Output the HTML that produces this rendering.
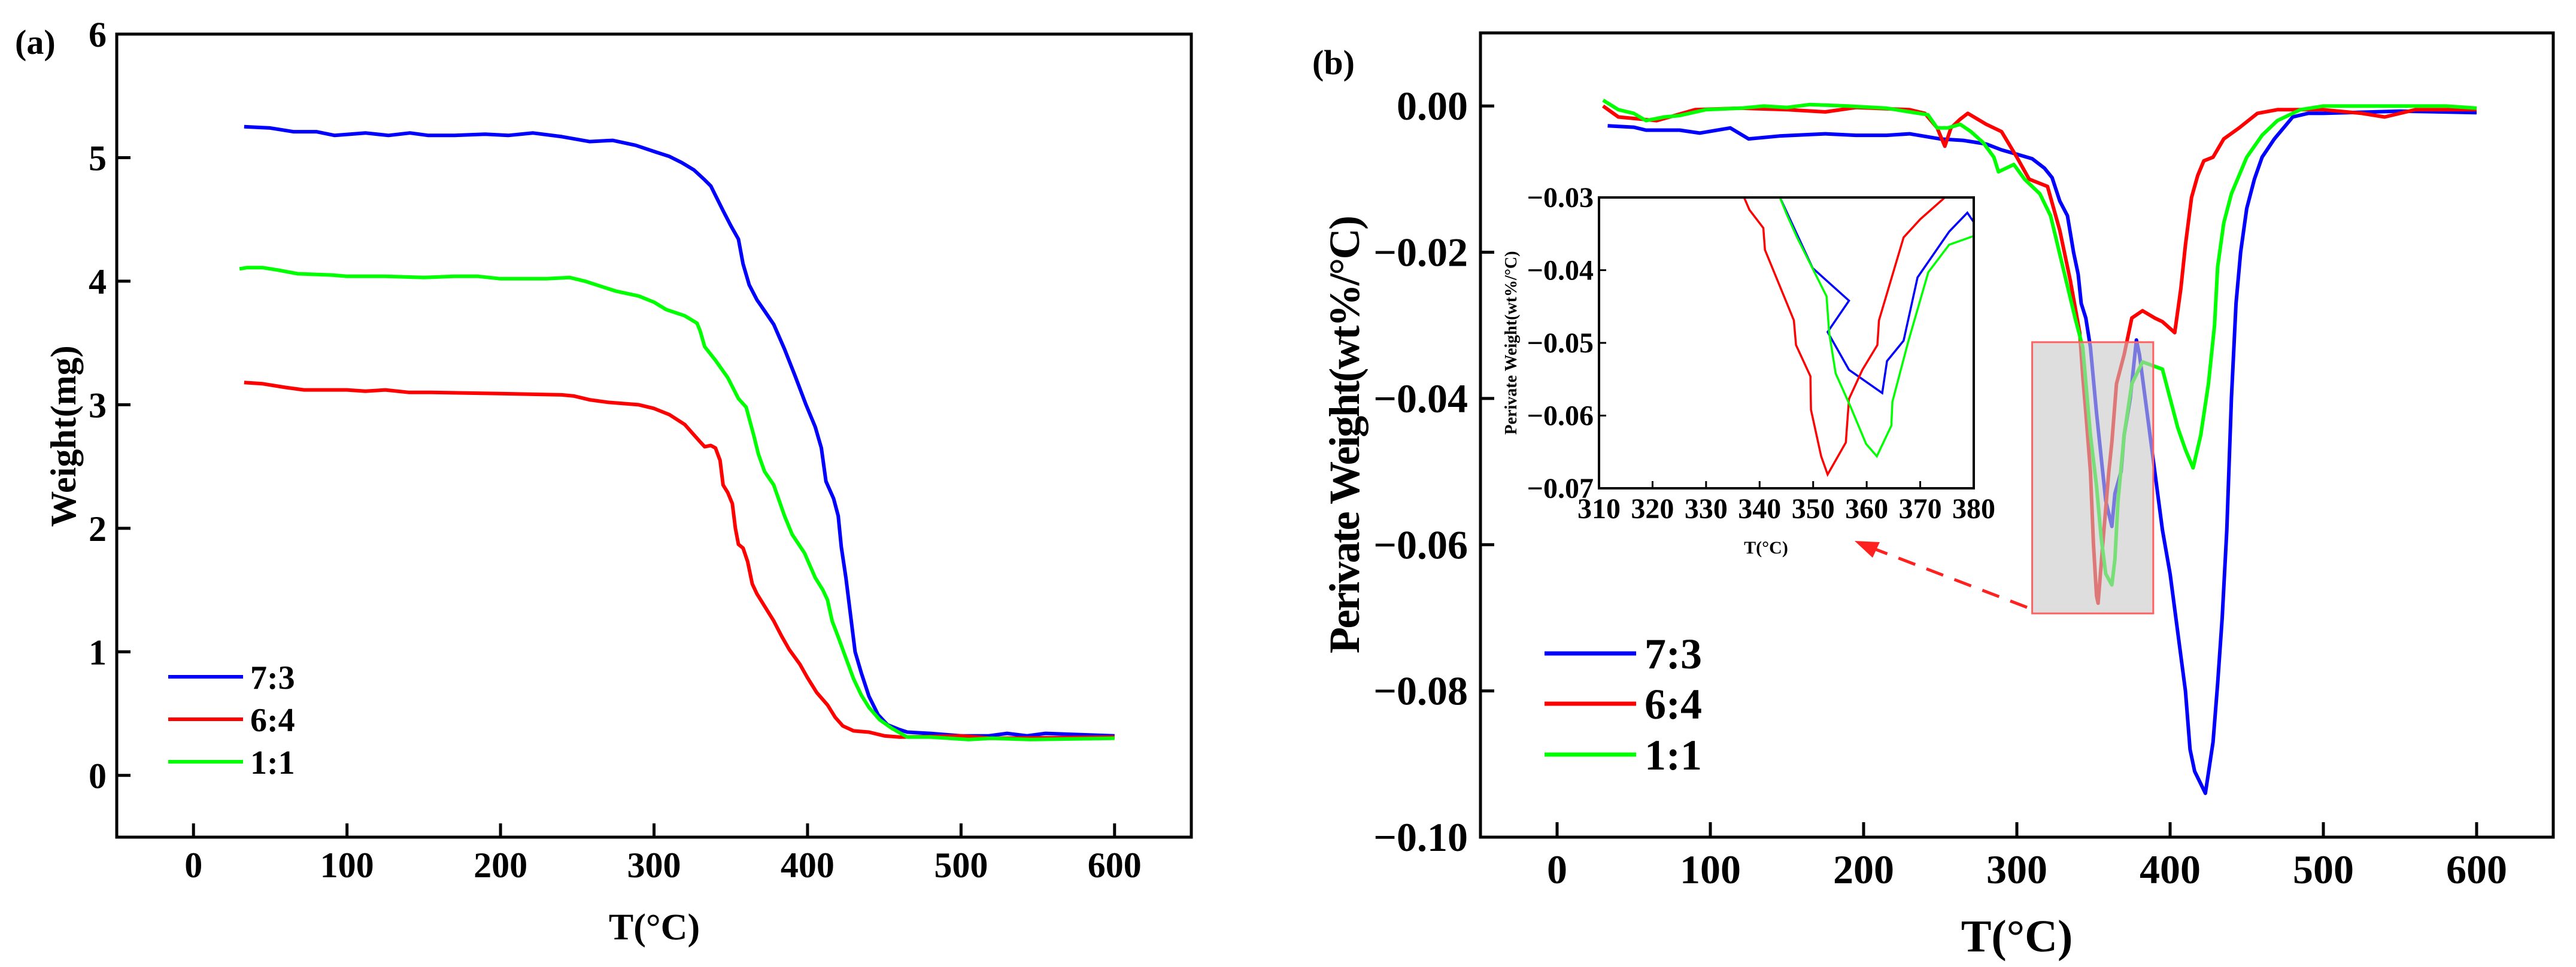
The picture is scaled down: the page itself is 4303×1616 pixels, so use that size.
<!DOCTYPE html>
<html><head><meta charset="utf-8"><style>
html,body{margin:0;padding:0;background:#fff;}
svg{display:block;font-family:"Liberation Serif",serif;font-weight:bold;}
</style></head><body>
<svg id="fig" width="4303" height="1616" viewBox="0 0 4303 1616" xmlns="http://www.w3.org/2000/svg"></svg>
<script>
// ---- Panel (a) data ----
const aBlueT=[33,50,65,80,92,112,127,141,153,170,190,205,221,240,258,273,288,300,310,318,326,333,337,345,350,355,358,362,367,372,378,385,392,399,405,409,412,417,420,422,425,428,431,435,440,446,452,460,465,480,500,518,530,543,555,600];
const aBlueW=[5.25,5.24,5.21,5.21,5.18,5.2,5.18,5.2,5.18,5.18,5.19,5.18,5.2,5.17,5.13,5.14,5.10,5.05,5.01,4.96,4.90,4.82,4.77,4.57,4.45,4.34,4.14,3.97,3.85,3.76,3.65,3.45,3.23,3.0,2.82,2.65,2.38,2.24,2.1,1.85,1.6,1.3,1.0,0.83,0.64,0.49,0.41,0.37,0.35,0.34,0.32,0.32,0.34,0.32,0.34,0.32];
const aRedT=[33,45,60,72,100,112,125,140,155,200,240,248,258,270,290,300,310,320,325,330,333,337,340,343,345,348,351,353,355,358,361,364,367,372,378,383,388,395,400,406,413,418,423,430,440,450,460,500,520,600];
const aRedW=[3.18,3.17,3.14,3.12,3.12,3.11,3.12,3.10,3.10,3.09,3.08,3.07,3.04,3.02,3.0,2.97,2.92,2.84,2.77,2.70,2.66,2.67,2.65,2.55,2.35,2.29,2.2,2.0,1.87,1.84,1.73,1.55,1.47,1.37,1.25,1.13,1.02,0.9,0.79,0.67,0.57,0.47,0.40,0.36,0.35,0.32,0.31,0.32,0.30,0.31];
const aGreenT=[30,35,45,55,68,90,100,125,150,170,185,200,230,245,255,265,275,290,300,308,320,328,330,333,340,348,355,360,365,368,372,378,385,390,398,405,410,413,416,420,425,430,435,440,447,455,465,480,505,520,545,600];
const aGreenW=[4.1,4.11,4.11,4.09,4.06,4.05,4.04,4.04,4.03,4.04,4.04,4.02,4.02,4.03,4.0,3.96,3.92,3.88,3.83,3.77,3.72,3.66,3.6,3.47,3.36,3.22,3.05,2.98,2.75,2.6,2.46,2.35,2.1,1.95,1.8,1.6,1.5,1.42,1.25,1.12,0.95,0.78,0.65,0.55,0.45,0.38,0.31,0.31,0.29,0.30,0.29,0.30];
const aXTicks=[0,100,200,300,400,500,600];
const aYTicks=[0,1,2,3,4,5,6];
// ---- Panel (b) data ----
const bBlueT=[33,50,58,80,93,113,125,145,175,195,215,230,250,265,280,290,300,310,318,323,328,333,337,340,342,345,348,352,355,358,362,364,368,370,374,378,380,385,390,395,400,405,410,413,416,423,428,431,434,437,440,443,446,450,455,460,468,480,490,500,550,600];
const bBlueD=[-0.0027,-0.0029,-0.0033,-0.0033,-0.0037,-0.0030,-0.0045,-0.0041,-0.0038,-0.0040,-0.0040,-0.0038,-0.0045,-0.0047,-0.0052,-0.0060,-0.0066,-0.0072,-0.0085,-0.0098,-0.0130,-0.0150,-0.0200,-0.0230,-0.0270,-0.0290,-0.0330,-0.0420,-0.0480,-0.0540,-0.0575,-0.0530,-0.0500,-0.0450,-0.0400,-0.0320,-0.0340,-0.0420,-0.0500,-0.0580,-0.0640,-0.0720,-0.0800,-0.0880,-0.0910,-0.0940,-0.0870,-0.0790,-0.0700,-0.0580,-0.0400,-0.0270,-0.0200,-0.0140,-0.0100,-0.0070,-0.0045,-0.0015,-0.0010,-0.0010,-0.0007,-0.0009];
const bRedT=[30,40,55,65,90,120,150,175,195,230,240,248,253,257,263,268,280,290,300,308,320,328,335,341,343,345,348,350,352,353,356,360,362,365,370,375,382,390,395,403,407,410,414,418,422,428,435,445,457,470,500,525,540,560,600];
const bRedD=[0.0,-0.0015,-0.0018,-0.0020,-0.0005,-0.0003,-0.0005,-0.0008,-0.0002,-0.0005,-0.0010,-0.0030,-0.0055,-0.0030,-0.0018,-0.0010,-0.0025,-0.0035,-0.0070,-0.0100,-0.0110,-0.0170,-0.0240,-0.0310,-0.0370,-0.0420,-0.0500,-0.0600,-0.0670,-0.0680,-0.0600,-0.0500,-0.0460,-0.0380,-0.0340,-0.0290,-0.0280,-0.0290,-0.0295,-0.0310,-0.0250,-0.0190,-0.0125,-0.0095,-0.0075,-0.0070,-0.0045,-0.0030,-0.0010,-0.0005,-0.0005,-0.0010,-0.0015,-0.0005,-0.0005];
const bGreenT=[30,40,50,58,70,80,97,120,135,150,165,190,215,230,242,248,255,263,270,278,285,288,298,305,315,322,330,338,343,348,352,355,358,362,364,366,370,375,382,395,405,410,415,420,425,429,431,435,440,450,460,470,485,500,580,600];
const bGreenD=[0.0008,-0.0005,-0.0010,-0.0020,-0.0015,-0.0013,-0.0005,-0.0003,0.0,-0.0002,0.0002,0.0,-0.0003,-0.0008,-0.0012,-0.0030,-0.0030,-0.0025,-0.0035,-0.0050,-0.0070,-0.0090,-0.0080,-0.0100,-0.0120,-0.0150,-0.0220,-0.0290,-0.0330,-0.0450,-0.0520,-0.0590,-0.0640,-0.0655,-0.0620,-0.0540,-0.0450,-0.0380,-0.0350,-0.0360,-0.0440,-0.0470,-0.0495,-0.0450,-0.0380,-0.0300,-0.0220,-0.0160,-0.0120,-0.0070,-0.0040,-0.0020,-0.0005,0.0,0.0,-0.0003];
const bXTicks=[0,100,200,300,400,500,600];
const bYTicks=[0,-0.02,-0.04,-0.06,-0.08,-0.10];
const bYLabels=["0.00","\u22120.02","\u22120.04","\u22120.06","\u22120.08","\u22120.10"];
// ---- Inset data ----
const iBlueT=[338,343.8,349.9,356.7,352.7,356.7,362.9,363.8,366.9,369.5,375.4,378.8,380];
const iBlueD=[-0.022,-0.030,-0.0397,-0.0442,-0.0485,-0.0537,-0.0569,-0.0525,-0.0497,-0.0410,-0.0347,-0.0321,-0.0334];
const iRedT=[336,337.1,338.1,340.7,341.0,346.4,346.8,349.5,349.6,351.5,352.7,356.1,356.7,359.2,362.0,362.3,366.9,370.0,374.6,378];
const iRedD=[-0.024,-0.030,-0.0317,-0.0342,-0.0372,-0.0469,-0.0503,-0.0546,-0.0592,-0.0656,-0.0681,-0.0637,-0.0577,-0.0537,-0.0503,-0.0469,-0.0355,-0.0330,-0.030,-0.027];
const iGreenT=[338,343.8,345,347,352.5,353.0,354.2,357.0,359.9,361.9,364.6,364.8,367.7,371.5,375.4,380];
const iGreenD=[-0.022,-0.030,-0.0322,-0.0355,-0.0436,-0.0486,-0.0542,-0.0588,-0.0639,-0.0656,-0.0614,-0.0581,-0.0500,-0.0403,-0.0365,-0.0353];
const iXTicks=[310,320,330,340,350,360,370,380];
const iYTicks=[-0.03,-0.04,-0.05,-0.06,-0.07];

const NS="http://www.w3.org/2000/svg";
const svg=document.getElementById('fig');
function mk(tag,attrs,parent,text){const e=document.createElementNS(NS,tag);for(const k in attrs)e.setAttribute(k,attrs[k]);if(text!==undefined)e.textContent=text;(parent||svg).appendChild(e);return e;}
function lin(d0,d1,r0,r1){return v=>r0+(v-d0)*(r1-r0)/(d1-d0);}
function pathD(xs,ys,sx,sy){return xs.map((x,i)=>(i?'L':'M')+sx(x).toFixed(1)+' '+sy(ys[i]).toFixed(1)).join(' ');}

// ===== Panel (a) =====
const ax=lin(-50,650,195,1990), ay=lin(-0.5,6,1399,57);
const ga=mk('g',{});


let t=mk('text',{x:25,y:90,'font-size':58},ga,'(a)');


[[aBlueT,aBlueW,'#0000ff','series-7-3'],[aRedT,aRedW,'#ff0000','series-6-4'],[aGreenT,aGreenW,'#00ff00','series-1-1']].forEach(s=>{
  const p=mk('path',{d:pathD(s[0],s[1],ax,ay),fill:'none',stroke:s[2],'stroke-width':6,'stroke-linejoin':'round'},ga);
  
  
});
let fr=mk('rect',{x:195,y:57,width:1795,height:1342,fill:'none',stroke:'#000','stroke-width':5},ga);


aXTicks.forEach(v=>{
  mk('line',{x1:ax(v),x2:ax(v),y1:1399,y2:1376,stroke:'#000','stroke-width':5},ga);
  const l=mk('text',{x:ax(v),y:1466,'font-size':60,'text-anchor':'middle'},ga,String(v));
  
  
});
aYTicks.forEach(v=>{
  mk('line',{x1:195,x2:218,y1:ay(v),y2:ay(v),stroke:'#000','stroke-width':5},ga);
  const l=mk('text',{x:178,y:ay(v)+21,'font-size':60,'text-anchor':'end'},ga,String(v));
  
  
});
t=mk('text',{x:1093,y:1570,'font-size':62,'text-anchor':'middle'},ga,'T(\u00B0C)');


t=mk('text',{x:0,y:0,'font-size':60,'text-anchor':'middle',transform:'translate(126,729) rotate(-90)'},ga,'Weight(mg)');


[['7:3','#0000ff',1131],['6:4','#ff0000',1202],['1:1','#00ff00',1273]].forEach(e=>{
  const g=mk('g',{},ga);
  
  
  mk('line',{x1:281,x2:406,y1:e[2],y2:e[2],stroke:e[1],'stroke-width':6},g);
  mk('text',{x:418,y:e[2]+20,'font-size':56},g,e[0]);
});

// ===== Panel (b) =====
const bx=lin(-50,650,2473,4265), by=lin(-0.1,0.01,1399,55);
const gb=mk('g',{});


t=mk('text',{x:2192,y:124,'font-size':58},gb,'(b)');


[[bBlueT,bBlueD,'#0000ff','series-7-3'],[bRedT,bRedD,'#ff0000','series-6-4'],[bGreenT,bGreenD,'#00ff00','series-1-1']].forEach(s=>{
  const p=mk('path',{d:pathD(s[0],s[1],bx,by),fill:'none',stroke:s[2],'stroke-width':6,'stroke-linejoin':'round'},gb);
  
  
});
// highlight rect
let hr=mk('rect',{x:bx(310),y:by(-0.0323),width:bx(389)-bx(310),height:by(-0.0694)-by(-0.0323),fill:'#c8c8c8','fill-opacity':0.6,stroke:'#ff6060','stroke-width':3},gb);


let ar=mk('line',{x1:3386,y1:1015,x2:3120,y2:913,stroke:'#ff2020','stroke-width':5,'stroke-dasharray':'30,20'},gb);


mk('polygon',{points:'3098,904 3140,906 3128,932',fill:'#ff2020'},gb);
fr=mk('rect',{x:2473,y:55,width:1792,height:1344,fill:'none',stroke:'#000','stroke-width':5},gb);


bXTicks.forEach(v=>{
  mk('line',{x1:bx(v),x2:bx(v),y1:1399,y2:1374,stroke:'#000','stroke-width':5},gb);
  const l=mk('text',{x:bx(v),y:1476,'font-size':68,'text-anchor':'middle'},gb,String(v));
  
  
});
bYTicks.forEach((v,i)=>{
  mk('line',{x1:2473,x2:2496,y1:by(v),y2:by(v),stroke:'#000','stroke-width':5},gb);
  const l=mk('text',{x:2452,y:by(v)+23,'font-size':68,'text-anchor':'end'},gb,bYLabels[i]);
  
  
});
t=mk('text',{x:3369,y:1590,'font-size':76,'text-anchor':'middle'},gb,'T(\u00B0C)');


t=mk('text',{x:0,y:0,'font-size':72,'text-anchor':'middle',textLength:732,transform:'translate(2270,726) rotate(-90)'},gb,'Perivate Weight(wt%/\u00B0C)');


[['7:3','#0000ff',1092],['6:4','#ff0000',1176],['1:1','#00ff00',1261]].forEach(e=>{
  const g=mk('g',{},gb);
  
  
  mk('line',{x1:2580,x2:2733,y1:e[2],y2:e[2],stroke:e[1],'stroke-width':7},g);
  mk('text',{x:2747,y:e[2]+25,'font-size':72},g,e[0]);
});

// ===== Inset =====
const ix=lin(310,380,2671,3297), iy=lin(-0.07,-0.03,816,330);
const gi=mk('g',{},gb);


mk('rect',{x:2671,y:330,width:626,height:486,fill:'#fff'},gi);
mk('clipPath',{id:'iclip'},gi);
mk('rect',{x:2671,y:330,width:626,height:486},document.getElementById('iclip'));
const gic=mk('g',{'clip-path':'url(#iclip)'},gi);
[[iBlueT,iBlueD,'#0000ff','series-7-3'],[iRedT,iRedD,'#ff0000','series-6-4'],[iGreenT,iGreenD,'#00ff00','series-1-1']].forEach(s=>{
  const p=mk('path',{d:pathD(s[0],s[1],ix,iy),fill:'none',stroke:s[2],'stroke-width':3.5,'stroke-linejoin':'miter'},gic);
  
  
});
fr=mk('rect',{x:2671,y:330,width:626,height:486,fill:'none',stroke:'#000','stroke-width':4},gi);


iXTicks.forEach(v=>{
  mk('line',{x1:ix(v),x2:ix(v),y1:816,y2:804,stroke:'#000','stroke-width':3},gi);
  const l=mk('text',{x:ix(v),y:866,'font-size':48,'text-anchor':'middle'},gi,String(v));
  
  
});
iYTicks.forEach(v=>{
  mk('line',{x1:2671,x2:2683,y1:iy(v),y2:iy(v),stroke:'#000','stroke-width':3},gi);
  const l=mk('text',{x:2662,y:iy(v)+16,'font-size':48,'text-anchor':'end'},gi,'\u2212'+Math.abs(v).toFixed(2));
  
  
});
t=mk('text',{x:2950,y:925,'font-size':30,'text-anchor':'middle'},gi,'T(\u00B0C)');


t=mk('text',{x:0,y:0,'font-size':28,'text-anchor':'middle',transform:'translate(2533,573) rotate(-90)'},gi,'Perivate Weight(wt%/\u00B0C)');


</script>
</body></html>
